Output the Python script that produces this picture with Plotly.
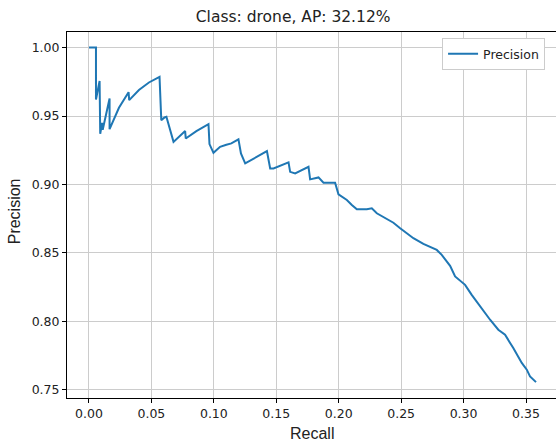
import plotly.graph_objects as go

recall = [0.0, 0.0056, 0.0056, 0.0085, 0.009, 0.0105, 0.011, 0.0165, 0.0165, 0.024,
          0.0317, 0.0322, 0.040, 0.048, 0.0565, 0.0579, 0.0605, 0.062, 0.0677, 0.077,
          0.0775, 0.086, 0.0957, 0.0965, 0.0997, 0.105, 0.110, 0.114, 0.1197, 0.1217,
          0.1251, 0.134, 0.1425, 0.1451, 0.1478, 0.1598, 0.1611, 0.1651, 0.1758, 0.1771,
          0.1838, 0.1878, 0.1971, 0.1998, 0.2065, 0.2105, 0.2145, 0.2225, 0.2265, 0.2305,
          0.2385, 0.2438, 0.2492, 0.2598, 0.2678, 0.2785, 0.2825, 0.2892, 0.2932, 0.3012,
          0.3065, 0.3132, 0.3212, 0.3278, 0.3332, 0.3398, 0.3466, 0.3506, 0.3532, 0.358]
precision = [1.0, 1.0, 0.962, 0.9756, 0.937, 0.945, 0.940, 0.9628, 0.9404, 0.956,
             0.9674, 0.9616, 0.969, 0.9745, 0.9786, 0.947, 0.949, 0.9494, 0.9311, 0.939,
             0.9336, 0.939, 0.944, 0.9295, 0.9231, 0.9275, 0.929, 0.930, 0.9329, 0.9227,
             0.9154, 0.920, 0.9243, 0.9117, 0.9117, 0.9161, 0.9092, 0.908, 0.9129, 0.9037,
             0.9051, 0.9012, 0.9012, 0.8928, 0.8886, 0.885, 0.8818, 0.8818, 0.8825, 0.8789,
             0.8745, 0.872, 0.868, 0.8607, 0.8565, 0.8521, 0.8485, 0.8405, 0.8327, 0.8266,
             0.8193, 0.8108, 0.8011, 0.7938, 0.7901, 0.7804, 0.7695, 0.7646, 0.7597, 0.7555]

x_ticks = [0.0, 0.05, 0.10, 0.15, 0.20, 0.25, 0.30, 0.35]
y_ticks = [0.75, 0.80, 0.85, 0.90, 0.95, 1.00]
title_text = "Class: drone, AP: 32.12%"

fig = go.Figure()
fig.add_trace(go.Scatter(x=recall, y=precision, mode="lines", name="Precision",
                         line=dict(color="#1f77b4", width=2)))

tickfont = dict(family="DejaVu Sans", size=12.5, color="#222")
fig.update_layout(
    width=556, height=444,
    margin=dict(l=67, r=0, t=32, b=46),
    paper_bgcolor="white", plot_bgcolor="white",
    showlegend=True,
    legend=dict(x=0.767, y=0.983, xanchor="left", yanchor="top",
                bgcolor="white", bordercolor="#cccccc", borderwidth=1,
                font=dict(family="DejaVu Sans", size=12.5, color="#222")),
    title=dict(text=title_text, x=0.4625, xref="paper", xanchor="center",
               y=1 - 17 / 444, yref="container", yanchor="middle",
               font=dict(family="DejaVu Sans", size=15.5, color="#222")),
    xaxis=dict(range=[-0.0176, 0.374], tickvals=x_ticks, tickformat=".2f",
               showgrid=True, gridcolor="#cccccc", gridwidth=1, zeroline=False,
               showline=True, linecolor="black", linewidth=1, mirror=True,
               ticks="outside", ticklen=4, tickcolor="black", tickfont=tickfont),
    yaxis=dict(range=[0.7439, 1.0114], tickvals=y_ticks, tickformat=".2f",
               showgrid=True, gridcolor="#cccccc", gridwidth=1, zeroline=False,
               showline=True, linecolor="black", linewidth=1, mirror=False,
               ticks="outside", ticklen=4, tickcolor="black", tickfont=tickfont),
    annotations=[
        dict(text="Recall", xref="paper", yref="paper", x=0.5, y=-0.0974,
             xanchor="center", yanchor="middle", showarrow=False,
             font=dict(family="Liberation Sans", size=16, color="#222")),
        dict(text="Precision", xref="paper", yref="paper", x=-0.1057, y=0.511,
             xanchor="center", yanchor="middle", showarrow=False, textangle=-90,
             font=dict(family="Liberation Sans", size=16, color="#222")),
    ],
)

fig.write_html("out.html", config={"displayModeBar": False},
               post_script="document.body.style.margin='0';document.body.style.overflow='hidden';")
